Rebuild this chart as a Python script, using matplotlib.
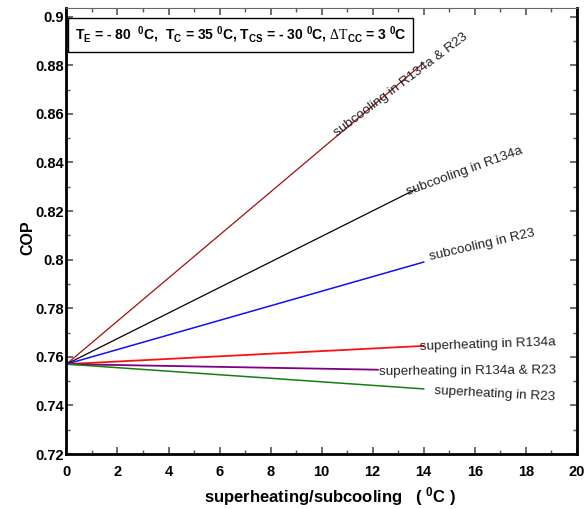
import matplotlib as mpl
mpl.use("Agg")
import matplotlib.pyplot as plt
from matplotlib.ticker import MultipleLocator

plt.rcParams["font.family"] = ["Liberation Sans", "DejaVu Sans"]
plt.rcParams["mathtext.fontset"] = "custom"
plt.rcParams["mathtext.rm"] = "Liberation Sans:bold"
plt.rcParams["mathtext.it"] = "Liberation Sans:bold"
plt.rcParams["mathtext.bf"] = "Liberation Sans:bold"
plt.rcParams["mathtext.sf"] = "Liberation Serif"

# COP vs degree of superheating / subcooling (all cases start from the base cycle)
x_start = 0.0
cop_base = 0.757

labels = ["subcooling in R134a & R23", "subcooling in R134a", "subcooling in R23",
          "superheating in R134a", "superheating in R134a & R23", "superheating in R23"]
x_end = [14.0, 13.7, 14.0, 14.0, 12.2, 14.0]
cop_end = [0.881, 0.829, 0.799, 0.7645, 0.7547, 0.7468]
colors = ["#a01010", "black", "#1010ff", "#ff1010", "#800080", "#108010"]
widths = [0.9, 0.9, 1.1, 1.3, 1.3, 1.1]

# label anchor (data coords) and angle on screen
lab_x = [10.6, 13.4, 14.25, 13.86, 12.25, 14.4]
lab_y = [0.8506, 0.8267, 0.8000, 0.7628, 0.7525, 0.7447]
lab_rot = [37, 20, 13, 2, 0.5, -3]

fig = plt.figure(figsize=(5.88, 5.09), dpi=100)
ax = fig.add_axes([0.113, 0.108, 0.868, 0.877])

for i in range(len(labels)):
    ax.plot([x_start, x_end[i]], [cop_base, cop_end[i]], color=colors[i], lw=widths[i])
    ax.text(lab_x[i], lab_y[i], labels[i], fontsize=9.7, rotation=lab_rot[i],
            rotation_mode="anchor", ha="left", va="baseline", color="#222222")

ax.set_xlim(0, 20)
ax.set_ylim(0.72, 0.9037)
ax.xaxis.set_major_locator(MultipleLocator(2))
ax.xaxis.set_minor_locator(MultipleLocator(1))
ax.yaxis.set_minor_locator(MultipleLocator(0.01))
ax.set_yticks([0.72, 0.74, 0.76, 0.78, 0.8, 0.82, 0.84, 0.86, 0.88, 0.9])
ax.set_yticklabels(["0.72", "0.74", "0.76", "0.78", "0.8", "0.82", "0.84", "0.86", "0.88", "0.9"])

ax.tick_params(which="both", direction="in", top=True, right=True, labelsize=10.5,
               color="#555555")
ax.tick_params(axis="y", pad=2)
ax.tick_params(axis="x", pad=8)
ax.tick_params(which="major", length=5, width=1.2)
ax.tick_params(which="minor", length=3, width=1.0)
for t in ax.get_xticklabels() + ax.get_yticklabels():
    t.set_fontweight("bold")

for side in ("left", "bottom", "right"):
    ax.spines[side].set_linewidth(2.0)
    ax.spines[side].set_color("black")
ax.spines["top"].set_linewidth(0.8)
ax.spines["top"].set_color("#666666")

ax.set_xlabel(r"superheating/subcooling   ( $^0$C )", fontsize=12, fontweight="bold")
ax.xaxis.set_label_coords(0.516, -0.07)
ax.set_ylabel("COP", fontsize=11.5, fontweight="bold")
ax.yaxis.set_label_coords(-0.06, 0.485)

ax.text(0.016, 0.962,
        r"$T_E$ = - 80  $^0$C,  $T_C$ = 35 $^0$C, $T_{CS}$ = - 30 $^0$C, $\mathsf{\Delta T}_{CC}$ = 3 $^0$C",
        transform=ax.transAxes, fontsize=10, fontweight="bold", ha="left", va="top",
        bbox=dict(boxstyle="square,pad=0.5", fc="white", ec="black", lw=1.0))

fig.savefig("out.png", dpi=100)
